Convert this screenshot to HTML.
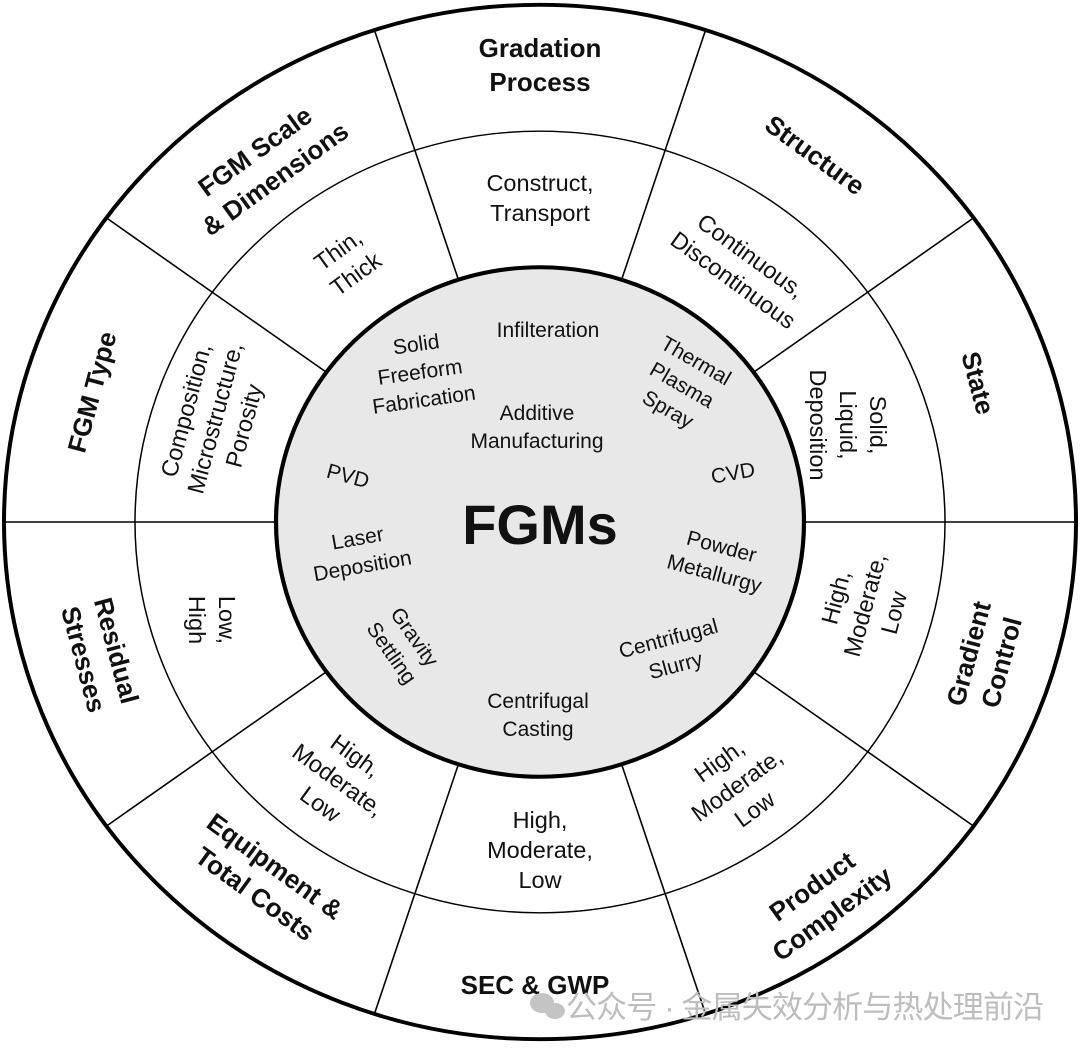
<!DOCTYPE html>
<html><head><meta charset="utf-8"><style>
html,body{margin:0;padding:0;background:#fff;}
svg{display:block;}
.o{font-family:"Liberation Sans",sans-serif;font-weight:bold;font-size:26px;fill:#111;}
.m{font-family:"Liberation Sans",sans-serif;font-size:23.5px;fill:#111;}
.i{font-family:"Liberation Sans",sans-serif;font-size:21px;fill:#111;}
</style></head><body>
<svg width="1080" height="1050" viewBox="0 0 1080 1050">
<g transform="translate(540,522) scale(1,0.965)">
  <circle r="536" fill="#fff" stroke="#000" stroke-width="4"/>
  <circle r="405" fill="none" stroke="#000" stroke-width="1.5"/>
  <g stroke="#000" stroke-width="1.6">
    <line x1="264" y1="0" x2="536" y2="0"/>
    <line x1="-264" y1="0" x2="-536" y2="0"/>
    <line x1="213.6" y1="-155.2" x2="433.6" y2="-315.1"/>
    <line x1="81.6" y1="-251.1" x2="165.6" y2="-509.8"/>
    <line x1="-81.6" y1="-251.1" x2="-165.6" y2="-509.8"/>
    <line x1="-213.6" y1="-155.2" x2="-433.6" y2="-315.1"/>
    <line x1="213.6" y1="155.2" x2="433.6" y2="315.1"/>
    <line x1="81.6" y1="251.1" x2="165.6" y2="509.8"/>
    <line x1="-81.6" y1="251.1" x2="-165.6" y2="509.8"/>
    <line x1="-213.6" y1="155.2" x2="-433.6" y2="315.1"/>
  </g>
  <circle r="264" fill="#e8e8e8" stroke="#000" stroke-width="4.2"/>
</g>

<!-- outer labels -->
<text class="o" text-anchor="middle" transform="translate(540,65)"><tspan x="0" dy="-8">Gradation</tspan><tspan x="0" dy="34">Process</tspan></text>
<text class="o" text-anchor="middle" transform="translate(815,155) rotate(36)"><tspan x="0" dy="9">Structure</tspan></text>
<text class="o" text-anchor="middle" transform="translate(978,383) rotate(75)"><tspan x="0" dy="9">State</tspan></text>
<text class="o" text-anchor="middle" transform="translate(985,658) rotate(-75)"><tspan x="0" dy="-8">Gradient</tspan><tspan x="0" dy="34">Control</tspan></text>
<text class="o" text-anchor="middle" transform="translate(822,900) rotate(-36)"><tspan x="0" dy="-8">Product</tspan><tspan x="0" dy="34">Complexity</tspan></text>
<text class="o" text-anchor="middle" transform="translate(535,985)"><tspan x="0" dy="9">SEC &amp; GWP</tspan></text>
<text class="o" text-anchor="middle" transform="translate(265,880) rotate(36)"><tspan x="0" dy="-8">Equipment &amp;</tspan><tspan x="0" dy="34">Total Costs</tspan></text>
<text class="o" text-anchor="middle" transform="translate(100,655) rotate(75)"><tspan x="0" dy="-8">Residual</tspan><tspan x="0" dy="34">Stresses</tspan></text>
<text class="o" text-anchor="middle" transform="translate(92,392) rotate(-75)"><tspan x="0" dy="9">FGM Type</tspan></text>
<text class="o" text-anchor="middle" transform="translate(265,165) rotate(-36)"><tspan x="0" dy="-8">FGM Scale</tspan><tspan x="0" dy="34">&amp; Dimensions</tspan></text>

<!-- middle labels -->
<text class="m" text-anchor="middle" transform="translate(540,198)"><tspan x="0" dy="-7">Construct,</tspan><tspan x="0" dy="30">Transport</tspan></text>
<text class="m" text-anchor="middle" transform="translate(742,268) rotate(36)"><tspan x="0" dy="-7">Continuous,</tspan><tspan x="0" dy="30">Discontinuous</tspan></text>
<text class="m" text-anchor="middle" transform="translate(848,425) rotate(90)"><tspan x="0" dy="-22">Solid,</tspan><tspan x="0" dy="30">Liquid,</tspan><tspan x="0" dy="30">Deposition</tspan></text>
<text class="m" text-anchor="middle" transform="translate(865,605) rotate(-75)"><tspan x="0" dy="-22">High,</tspan><tspan x="0" dy="30">Moderate,</tspan><tspan x="0" dy="30">Low</tspan></text>
<text class="m" text-anchor="middle" transform="translate(737,785) rotate(-36)"><tspan x="0" dy="-22">High,</tspan><tspan x="0" dy="30">Moderate,</tspan><tspan x="0" dy="30">Low</tspan></text>
<text class="m" text-anchor="middle" transform="translate(540,850)"><tspan x="0" dy="-22">High,</tspan><tspan x="0" dy="30">Moderate,</tspan><tspan x="0" dy="30">Low</tspan></text>
<text class="m" text-anchor="middle" transform="translate(338,780) rotate(36)"><tspan x="0" dy="-22">High,</tspan><tspan x="0" dy="30">Moderate,</tspan><tspan x="0" dy="30">Low</tspan></text>
<text class="m" text-anchor="middle" transform="translate(212,620) rotate(90)"><tspan x="0" dy="-7">Low,</tspan><tspan x="0" dy="30">High</tspan></text>
<text class="m" text-anchor="middle" transform="translate(215,418) rotate(-75)"><tspan x="0" dy="-22">Composition,</tspan><tspan x="0" dy="30">Microstructure,</tspan><tspan x="0" dy="30">Porosity</tspan></text>
<text class="m" text-anchor="middle" transform="translate(347,262) rotate(-36)"><tspan x="0" dy="-7">Thin,</tspan><tspan x="0" dy="30">Thick</tspan></text>

<!-- inner labels -->
<text class="i" text-anchor="middle" transform="translate(548,330)"><tspan x="0" dy="7">Infilteration</tspan></text>
<text class="i" text-anchor="middle" transform="translate(420,372) rotate(-8)"><tspan x="0" dy="-21">Solid</tspan><tspan x="0" dy="28">Freeform</tspan><tspan x="0" dy="28">Fabrication</tspan></text>
<text class="i" text-anchor="middle" transform="translate(537,427)"><tspan x="0" dy="-7">Additive</tspan><tspan x="0" dy="28">Manufacturing</tspan></text>
<text class="i" text-anchor="middle" transform="translate(682,385) rotate(30)"><tspan x="0" dy="-21">Thermal</tspan><tspan x="0" dy="28">Plasma</tspan><tspan x="0" dy="28">Spray</tspan></text>
<text class="i" text-anchor="middle" transform="translate(348,476) rotate(15)"><tspan x="0" dy="7">PVD</tspan></text>
<text class="i" text-anchor="middle" transform="translate(733,473) rotate(-10)"><tspan x="0" dy="7">CVD</tspan></text>
<text class="i" text-anchor="middle" transform="translate(360,552) rotate(-10)"><tspan x="0" dy="-7">Laser</tspan><tspan x="0" dy="28">Deposition</tspan></text>
<text class="i" text-anchor="middle" transform="translate(718,560) rotate(15)"><tspan x="0" dy="-7">Powder</tspan><tspan x="0" dy="28">Metallurgy</tspan></text>
<text class="i" text-anchor="middle" transform="translate(403,645) rotate(55)"><tspan x="0" dy="-7">Gravity</tspan><tspan x="0" dy="28">Settling</tspan></text>
<text class="i" text-anchor="middle" transform="translate(672,652) rotate(-15)"><tspan x="0" dy="-7">Centrifugal</tspan><tspan x="0" dy="28">Slurry</tspan></text>
<text class="i" text-anchor="middle" transform="translate(538,715)"><tspan x="0" dy="-7">Centrifugal</tspan><tspan x="0" dy="28">Casting</tspan></text>

<text x="540" y="544" text-anchor="middle" style="font-family:'Liberation Sans',sans-serif;font-weight:bold;font-size:56px;fill:#111;">FGMs</text>

<!-- watermark -->
<g fill="#c4c4c4">
  <ellipse cx="542" cy="1003" rx="12" ry="10"/>
  <ellipse cx="555" cy="1011" rx="10" ry="8"/>
</g>
<text x="566" y="1018" textLength="478" style="font-family:'Liberation Sans','Noto Sans CJK SC',sans-serif;font-size:31px;fill:#bdbdbd;">公众号 · 金属失效分析与热处理前沿</text>
</svg>
</body></html>
